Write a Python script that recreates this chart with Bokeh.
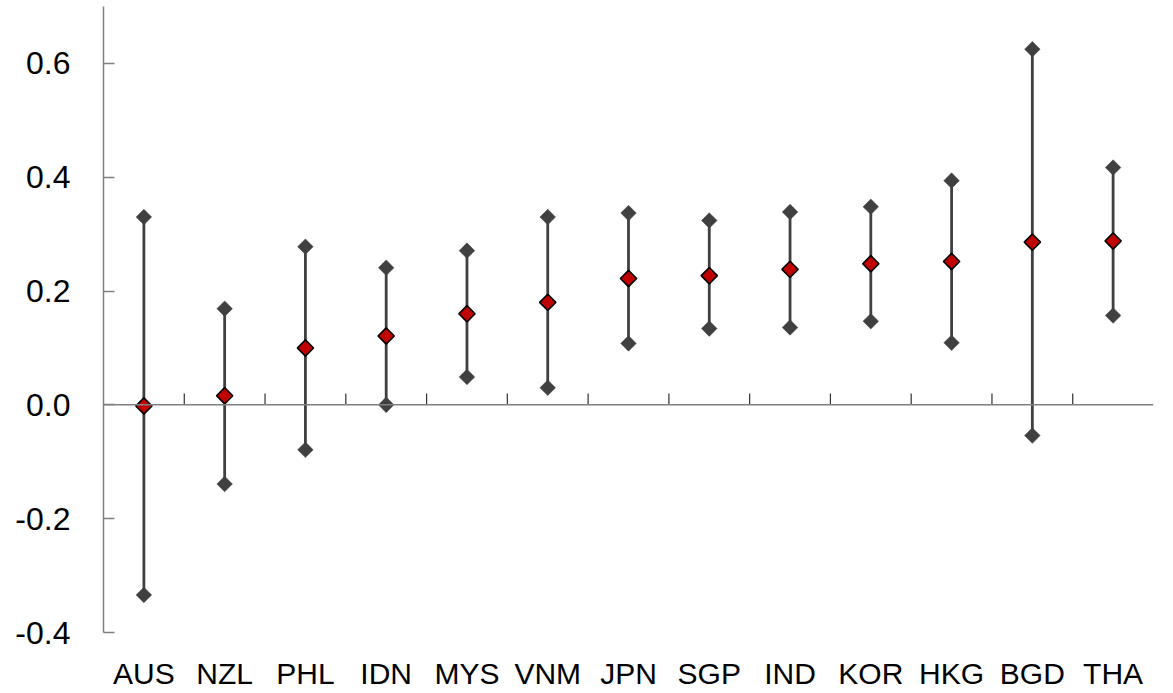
import math
from bokeh.plotting import figure
from bokeh.models import ColumnDataSource, Span, FixedTicker, NumeralTickFormatter, Range1d, FactorRange
from bokeh.transform import dodge
from bokeh.embed import file_html
from bokeh.resources import INLINE

categories = ["AUS", "NZL", "PHL", "IDN", "MYS", "VNM", "JPN", "SGP", "IND", "KOR", "HKG", "BGD", "THA"]
centre = [-0.002, 0.016, 0.100, 0.121, 0.160, 0.180, 0.222, 0.227, 0.238, 0.248, 0.252, 0.286, 0.288]
upper = [0.330, 0.169, 0.278, 0.241, 0.271, 0.330, 0.337, 0.324, 0.339, 0.348, 0.394, 0.625, 0.417]
lower = [-0.334, -0.139, -0.079, 0.000, 0.049, 0.030, 0.108, 0.134, 0.136, 0.147, 0.109, -0.054, 0.157]
y_ticks = [-0.4, -0.2, 0.0, 0.2, 0.4, 0.6]

FONT = "Liberation Sans"
GREY = "#404040"
RED = "#C00000"

src = ColumnDataSource(dict(cat=categories, mid=centre, hi=upper, lo=lower))
bounds = ColumnDataSource(dict(cat=categories[:-1], y0=[0.0] * (len(categories) - 1)))

p = figure(width=1173, height=693, x_range=FactorRange(*categories, range_padding=0),
           y_range=Range1d(-0.4, 0.7), output_backend="svg", toolbar_location=None,
           min_border_left=103, min_border_right=20, min_border_top=6, min_border_bottom=61)
p.outline_line_color = None
p.xgrid.visible = False
p.ygrid.visible = False
p.background_fill_color = "white"
p.border_fill_color = "white"

# zero line
p.add_layout(Span(location=0, dimension="width", line_color="#808080", line_width=1.5))
# category boundary ticks on zero line
p.segment(x0=dodge("cat", 0.5, range=p.x_range), x1=dodge("cat", 0.5, range=p.x_range),
          y0="y0", y1=0.02, source=bounds, line_color="#303030", line_width=1.2)

# error bars
p.segment(x0="cat", x1="cat", y0="lo", y1="hi", source=src, line_color=GREY, line_width=2.8)
p.scatter(x="cat", y="hi", source=src, marker="square", angle=math.pi / 4, size=11,
          fill_color=GREY, line_color=GREY, line_width=0.5)
p.scatter(x="cat", y="lo", source=src, marker="square", angle=math.pi / 4, size=11,
          fill_color=GREY, line_color=GREY, line_width=0.5)
p.scatter(x="cat", y="mid", source=src, marker="square", angle=math.pi / 4, size=11.5,
          fill_color=RED, line_color="black", line_width=1.6)

# y axis
ya = p.yaxis[0]
ya.ticker = FixedTicker(ticks=y_ticks)
ya.formatter = NumeralTickFormatter(format="0.0")
ya.axis_line_color = "#808080"
ya.axis_line_width = 1.5
ya.major_tick_line_color = "#808080"
ya.major_tick_line_width = 1.5
ya.major_tick_in = 11
ya.major_tick_out = 0
ya.minor_tick_line_color = None
ya.major_label_standoff = 33
ya.major_label_text_font = FONT
ya.major_label_text_font_size = "32px"
ya.major_label_text_color = "black"

# x axis (labels only)
xa = p.xaxis[0]
xa.axis_line_color = None
xa.major_tick_line_color = None
xa.minor_tick_line_color = None
xa.major_label_standoff = 18
xa.major_label_text_font = FONT
xa.major_label_text_font_size = "30px"
xa.major_label_text_color = "black"

open("out.html", "w").write(file_html(p, INLINE))
